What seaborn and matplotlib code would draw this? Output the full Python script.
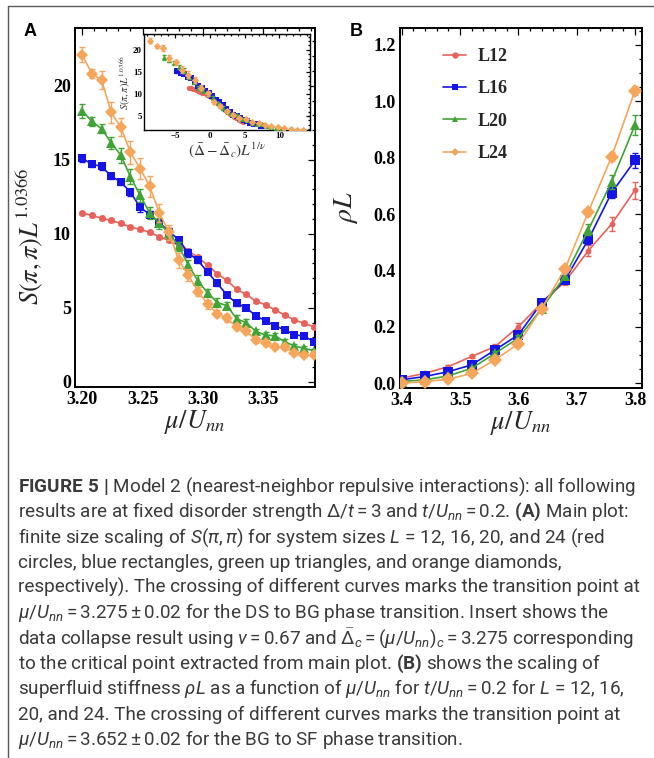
import matplotlib
matplotlib.use("Agg")
import numpy as np
import pandas as pd
import seaborn as sns
import matplotlib.pyplot as plt
from matplotlib.lines import Line2D
from matplotlib.ticker import MultipleLocator
from matplotlib import font_manager as fm

# ---------------- data ----------------
mu_a = [3.200, 3.208, 3.216, 3.224, 3.232, 3.240, 3.248, 3.256, 3.264, 3.272,
        3.280, 3.288, 3.296, 3.304, 3.312, 3.320, 3.328, 3.336, 3.344, 3.352,
        3.360, 3.368, 3.376, 3.384, 3.392]
s_L12 = [11.40, 11.25, 11.05, 10.90, 10.70, 10.45, 10.30, 10.10, 9.80, 9.55,
         9.20, 8.85, 8.40, 7.88, 7.30, 6.85, 6.25, 5.90, 5.45, 5.20,
         4.85, 4.50, 4.18, 3.95, 3.72]
s_L16 = [15.10, 14.70, 14.55, 13.90, 13.50, 12.80, 11.80, 11.30, 10.75, 10.15,
         9.60, 8.70, 8.20, 7.40, 6.65, 5.85, 5.30, 5.00, 4.45, 4.12,
         3.78, 3.50, 3.18, 3.08, 2.72]
s_L20 = [18.30, 17.60, 17.10, 16.15, 15.30, 13.85, 12.60, 11.40, 10.70, 10.05,
         9.15, 7.90, 6.80, 6.00, 5.35, 5.15, 4.25, 4.00, 3.40, 3.16,
         3.10, 2.70, 2.42, 2.26, 2.10]
s_L24 = [22.10, 20.80, 20.40, 18.20, 17.20, 15.50, 14.40, 13.20, 11.40, 10.10,
         8.20, 7.20, 6.10, 5.25, 4.60, 4.30, 3.70, 3.40, 2.85, 2.60,
         2.38, 2.32, 1.98, 1.82, 1.80]
e_L12 = [0.10, 0.10, 0.10, 0.10, 0.10, 0.10, 0.10, 0.10, 0.12, 0.12,
         0.12, 0.12, 0.10, 0.10, 0.10, 0.10, 0.10, 0.10, 0.10, 0.10,
         0.10, 0.08, 0.08, 0.08, 0.08]
e_L16 = [0.25, 0.20, 0.25, 0.20, 0.20, 0.25, 0.30, 0.25, 0.25, 0.25,
         0.20, 0.25, 0.20, 0.15, 0.15, 0.15, 0.15, 0.15, 0.12, 0.12,
         0.12, 0.10, 0.10, 0.10, 0.10]
e_L20 = [0.50, 0.30, 0.30, 0.40, 0.50, 0.50, 0.45, 0.40, 0.35, 0.35,
         0.30, 0.35, 0.40, 0.30, 0.30, 0.25, 0.25, 0.25, 0.20, 0.20,
         0.20, 0.20, 0.15, 0.15, 0.15]
e_L24 = [0.50, 0.30, 0.60, 0.70, 0.60, 0.80, 0.70, 0.70, 0.60, 0.50,
         0.50, 0.40, 0.30, 0.30, 0.25, 0.25, 0.20, 0.20, 0.20, 0.20,
         0.15, 0.15, 0.15, 0.15, 0.15]

mu_b = [3.40, 3.44, 3.48, 3.52, 3.56, 3.60, 3.64, 3.68, 3.72, 3.76, 3.80]
r_L12 = [0.018, 0.035, 0.059, 0.095, 0.130, 0.200, 0.285, 0.360, 0.470, 0.565, 0.685]
r_L16 = [0.012, 0.024, 0.041, 0.065, 0.118, 0.172, 0.285, 0.366, 0.510, 0.676, 0.790]
r_L20 = [0.006, 0.012, 0.026, 0.053, 0.106, 0.160, 0.265, 0.380, 0.544, 0.715, 0.916]
r_L24 = [0.000, 0.006, 0.014, 0.035, 0.083, 0.140, 0.265, 0.405, 0.608, 0.804, 1.038]
eb_L12 = [0.004, 0.004, 0.005, 0.006, 0.008, 0.012, 0.010, 0.012, 0.020, 0.025, 0.030]
eb_L16 = [0.004, 0.004, 0.005, 0.006, 0.008, 0.010, 0.010, 0.010, 0.015, 0.020, 0.028]
eb_L20 = [0.004, 0.004, 0.005, 0.006, 0.008, 0.010, 0.010, 0.010, 0.020, 0.025, 0.035]
eb_L24 = [0.004, 0.004, 0.005, 0.006, 0.008, 0.010, 0.010, 0.012, 0.015, 0.015, 0.015]

sizes = [12, 16, 20, 24]
labels = ["L12", "L16", "L20", "L24"]
colors = ["#E8625C", "#1414E6", "#3FA435", "#F5A65B"]
markers = ["o", "s", "^", "D"]
msizes_a = [5.0, 5.8, 6.5, 6.0]
msizes_b = [4.2, 6.5, 6.5, 6.8]

NU = 0.67
DELTA_C = 3.275

S_series = [s_L12, s_L16, s_L20, s_L24]
S_err = [e_L12, e_L16, e_L20, e_L24]
R_series = [r_L12, r_L16, r_L20, r_L24]
R_err = [eb_L12, eb_L16, eb_L20, eb_L24]

# ---------------- style ----------------
sns.set_theme(style="white")
plt.rcParams['font.family'] = ['DejaVu Sans']
plt.rcParams['mathtext.fontset'] = 'stix'

names = {f.name for f in fm.fontManager.ttflist}
cap_family = 'Liberation Sans Narrow' if 'Liberation Sans Narrow' in names else 'Roboto'
plt.rcParams['mathtext.rm'] = cap_family
plt.rcParams['mathtext.it'] = cap_family + ':italic'
plt.rcParams['mathtext.bf'] = cap_family + ':bold'
plt.rcParams['mathtext.sf'] = cap_family

SERIF = 'Liberation Serif'
W, H = 654, 758
fig = plt.figure(figsize=(W / 100, H / 100), dpi=100)
fig.patch.set_facecolor('white')


def frac_box(l, t, r, b):
    return [l / W, 1 - b / H, (r - l) / W, (b - t) / H]


def style_axes(ax, lw=1.4, major=5, minor=2.5, lsize=13):
    for sp in ax.spines.values():
        sp.set_color('black')
        sp.set_linewidth(lw)
        sp.set_visible(True)
    ax.tick_params(which='both', direction='in', top=True, right=True,
                   colors='black', width=0.9)
    ax.tick_params(which='major', length=major, labelsize=lsize, pad=3)
    ax.tick_params(which='minor', length=minor)
    for lab in ax.get_xticklabels() + ax.get_yticklabels():
        lab.set_fontfamily(SERIF)
        lab.set_fontweight('bold')
    ax.set_facecolor('white')
    ax.grid(False)


# ---------------- panel A ----------------
axA = fig.add_axes(frac_box(75, 28, 315, 387))
for i in range(4):
    df = pd.DataFrame({"mu": mu_a, "S": S_series[i]})
    axA.errorbar(mu_a, S_series[i], yerr=S_err[i], fmt='none', ecolor=colors[i],
                 elinewidth=1.0, capsize=2.5, capthick=1.0, zorder=2 + i)
    sns.lineplot(data=df, x="mu", y="S", ax=axA, color=colors[i], marker=markers[i],
                 markersize=msizes_a[i], markeredgewidth=0, linewidth=1.2,
                 errorbar=None, legend=False, zorder=3 + i)
axA.set_xlim(3.194, 3.393)
axA.set_ylim(-0.35, 23.9)
axA.xaxis.set_major_locator(MultipleLocator(0.05))
axA.xaxis.set_minor_locator(MultipleLocator(0.01))
axA.yaxis.set_major_locator(MultipleLocator(5))
axA.yaxis.set_minor_locator(MultipleLocator(1))
axA.set_xticks([3.20, 3.25, 3.30, 3.35])
axA.set_xticklabels(["3.20", "3.25", "3.30", "3.35"])
style_axes(axA)
axA.set_xlabel(r'$\mu/U_{nn}$', fontsize=19, labelpad=0)
axA.set_ylabel(r'$S(\pi,\pi)L^{1.0366}$', fontsize=19)
axA.yaxis.set_label_coords(-0.125, 0.42)

# ---------------- inset ----------------
axI = fig.add_axes(frac_box(144, 34, 310, 130))
for i in range(4):
    xs = [(m - DELTA_C) * sizes[i] ** (1.0 / NU) for m in mu_a]
    axI.errorbar(xs, S_series[i], yerr=S_err[i], fmt='none', ecolor=colors[i],
                 elinewidth=0.8, capsize=1.2, zorder=2 + i)
    sns.scatterplot(x=xs, y=S_series[i], ax=axI, color=colors[i], marker=markers[i],
                    s=14, linewidth=0, legend=False, zorder=3 + i)
axI.set_xlim(-9.5, 14.4)
axI.set_ylim(1.8, 23.6)
axI.xaxis.set_major_locator(MultipleLocator(5))
axI.xaxis.set_minor_locator(MultipleLocator(1))
axI.yaxis.set_major_locator(MultipleLocator(5))
axI.yaxis.set_minor_locator(MultipleLocator(1))
axI.set_xticks([-5, 0, 5, 10])
axI.set_xticklabels(["\u22125", "0", "5", "10"])
axI.set_yticks([5, 10, 15, 20])
style_axes(axI, lw=1.0, major=3, minor=1.5, lsize=6.5)
axI.tick_params(which='major', pad=1.5)
axI.set_xlabel(r'$(\bar{\Delta}-\bar{\Delta}_c)L^{1/\nu}$', fontsize=11, labelpad=0, color='#333333')
axI.set_ylabel(r'$S(\pi,\pi)L^{1.0366}$', fontsize=7.5, labelpad=0, color='#333333')

# ---------------- panel B ----------------
axB = fig.add_axes(frac_box(400, 28, 642, 388))
for i in range(4):
    df = pd.DataFrame({"mu": mu_b, "rho": R_series[i]})
    axB.errorbar(mu_b, R_series[i], yerr=R_err[i], fmt='none', ecolor=colors[i],
                 elinewidth=1.0, capsize=2.5, capthick=1.0, zorder=2 + i)
    sns.lineplot(data=df, x="mu", y="rho", ax=axB, color=colors[i], marker=markers[i],
                 markersize=msizes_b[i], markeredgewidth=0, linewidth=1.2,
                 errorbar=None, legend=False, zorder=3 + i)
axB.set_xlim(3.397, 3.812)
axB.set_ylim(-0.017, 1.26)
axB.xaxis.set_major_locator(MultipleLocator(0.1))
axB.xaxis.set_minor_locator(MultipleLocator(0.02))
axB.yaxis.set_major_locator(MultipleLocator(0.2))
axB.yaxis.set_minor_locator(MultipleLocator(0.05))
axB.set_xticks([3.4, 3.5, 3.6, 3.7, 3.8])
axB.set_xticklabels(["3.4", "3.5", "3.6", "3.7", "3.8"])
axB.set_yticks([0.0, 0.2, 0.4, 0.6, 0.8, 1.0, 1.2])
axB.set_yticklabels(["0.0", "0.2", "0.4", "0.6", "0.8", "1.0", "1.2"])
style_axes(axB)
axB.set_xlabel(r'$\mu/U_{nn}$', fontsize=19, labelpad=0)
axB.set_ylabel(r'$\rho L$', fontsize=20)
axB.yaxis.set_label_coords(-0.165, 0.5)

handles = [Line2D([], [], color=colors[i], marker=markers[i], markersize=4.5,
                  markeredgewidth=0, linewidth=1.2) for i in range(4)]
axB.legend(handles, labels, loc='upper left', bbox_to_anchor=(0.11, 0.99),
           frameon=False, handlelength=1.3, handletextpad=0.6, labelspacing=0.85,
           prop={'family': SERIF, 'weight': 'bold', 'size': 13})

# ---------------- panel letters and frame ----------------
fig.text(30 / W, 1 - 31 / H, "A", fontsize=13, fontweight='bold', family='Liberation Sans',
         ha='center', va='center', color='black')
fig.text(356 / W, 1 - 31 / H, "B", fontsize=13, fontweight='bold', family='Liberation Sans',
         ha='center', va='center', color='black')
fig.add_artist(Line2D([8 / W, 1.0], [1 - 6 / H, 1 - 6 / H], transform=fig.transFigure,
                      color='#5a5a5a', lw=1.0))
fig.add_artist(Line2D([8 / W, 8 / W], [1 - 6 / H, 0.0], transform=fig.transFigure,
                      color='#5a5a5a', lw=1.0))

# ---------------- caption ----------------
cap_lines = [
    r"$\mathbf{FIGURE\ 5\ |}$ Model 2 (nearest-neighbor repulsive interactions): all following",
    r"results are at fixed disorder strength $\Delta/t = 3$ and $t/U_{nn} = 0.2$. $\mathbf{(A)}$ Main plot:",
    r"finite size scaling of $S(\pi,\pi)$ for system sizes $L$ = 12, 16, 20, and 24 (red",
    r"circles, blue rectangles, green up triangles, and orange diamonds,",
    r"respectively). The crossing of different curves marks the transition point at",
    r"$\mu/U_{nn} = 3.275 \pm 0.02$ for the DS to BG phase transition. Insert shows the",
    r"data collapse result using $\nu = 0.67$ and $\bar{\Delta}_c = (\mu/U_{nn})_c = 3.275$ corresponding",
    r"to the critical point extracted from main plot. $\mathbf{(B)}$ shows the scaling of",
    r"superfluid stiffness $\rho L$ as a function of $\mu/U_{nn}$ for $t/U_{nn} = 0.2$ for $L$ = 12, 16,",
    r"20, and 24. The crossing of different curves marks the transition point at",
    r"$\mu/U_{nn} = 3.652 \pm 0.02$ for the BG to SF phase transition.",
]
cap_texts = []
base = 12
for k, line in enumerate(cap_lines):
    t = fig.text(18 / W, 1 - (492 + 25.3 * k) / H, line, fontsize=base, family=cap_family,
                 color='#3a3a3a', ha='left', va='baseline', math_fontfamily='custom')
    cap_texts.append(t)
fig.canvas.draw()
rend = fig.canvas.get_renderer()
widths = [t.get_window_extent(rend).width for t in cap_texts]
scale = min(628.0 / widths[6], 622.0 / max(widths))
for t in cap_texts:
    t.set_fontsize(base * scale)

fig.savefig("out.png", dpi=100, facecolor='white')
